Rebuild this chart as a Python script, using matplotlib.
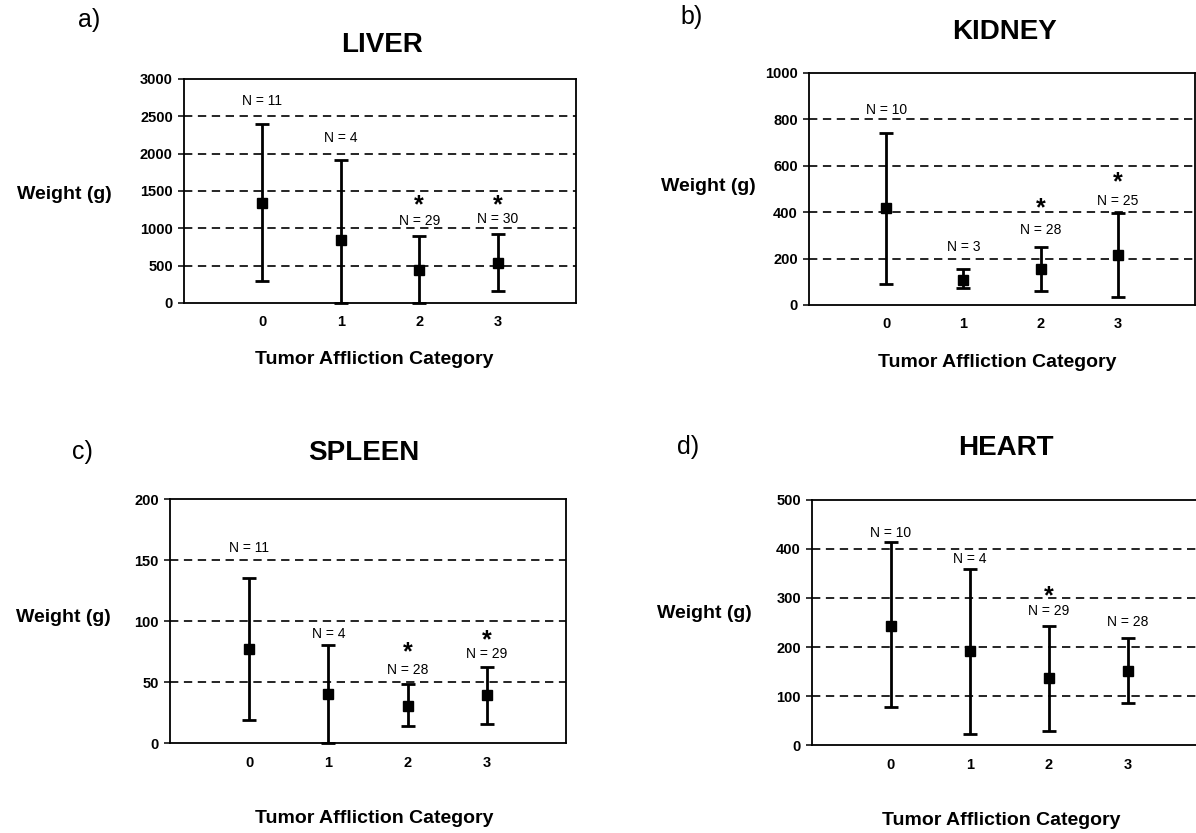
import matplotlib
matplotlib.use("Agg")
import matplotlib.pyplot as plt
import numpy as np

plt.rcParams['font.family'] = ['Liberation Sans', 'DejaVu Sans']
plt.rcParams['lines.scale_dashes'] = False

categories = [0, 1, 2, 3]

# LIVER
liver_mean = [1335, 840, 440, 535]
liver_low = [290, 0, 0, 165]
liver_high = [2400, 1920, 900, 925]
liver_n = [11, 4, 29, 30]
liver_sig = [False, False, True, True]

# KIDNEY
kidney_mean = [418, 108, 155, 215]
kidney_low = [92, 72, 60, 35]
kidney_high = [741, 157, 248, 396]
kidney_n = [10, 3, 28, 25]
kidney_sig = [False, False, True, True]

# SPLEEN
spleen_mean = [77, 40, 30, 39]
spleen_low = [19, 0, 14, 16]
spleen_high = [135, 80, 48, 62]
spleen_n = [11, 4, 28, 29]
spleen_sig = [False, False, True, True]

# HEART
heart_mean = [242, 191, 136, 152]
heart_low = [78, 22, 29, 86]
heart_high = [414, 359, 243, 219]
heart_n = [10, 4, 29, 28]
heart_sig = [False, False, True, False]

panels = [
    dict(letter='a)', title='LIVER', mean=liver_mean, low=liver_low, high=liver_high,
         n=liver_n, sig=liver_sig, ymax=3000, step=500,
         rect=[0.1538, 0.6363, 0.3278, 0.2689],
         letter_xy=(0.0744, 0.976), title_xy=(0.319, 0.946),
         ylab_xy=(0.054, 0.767), xlab_xy=(0.313, 0.568),
         n_off=[16.5, 15.3, 10.5, 10.5], star_off=[0, 0, 22.0, 20.8]),
    dict(letter='b)', title='KIDNEY', mean=kidney_mean, low=kidney_low, high=kidney_high,
         n=kidney_n, sig=kidney_sig, ymax=1000, step=200,
         rect=[0.6764, 0.6339, 0.3227, 0.2785],
         letter_xy=(0.578, 0.979), title_xy=(0.840, 0.962),
         ylab_xy=(0.592, 0.776), xlab_xy=(0.834, 0.565),
         n_off=[16.5, 15.3, 12.7, 8.6], star_off=[0, 0, 28.3, 22.0]),
    dict(letter='c)', title='SPLEEN', mean=spleen_mean, low=spleen_low, high=spleen_high,
         n=spleen_n, sig=spleen_sig, ymax=200, step=50,
         rect=[0.1421, 0.1080, 0.3311, 0.2929],
         letter_xy=(0.0686, 0.457), title_xy=(0.304, 0.456),
         ylab_xy=(0.0527, 0.259), xlab_xy=(0.313, 0.018),
         n_off=[21.8, 7.9, 10.5, 9.3], star_off=[0, 0, 23.0, 19.6]),
    dict(letter='d)', title='HEART', mean=heart_mean, low=heart_low, high=heart_high,
         n=heart_n, sig=heart_sig, ymax=500, step=100,
         rect=[0.6789, 0.1056, 0.33, 0.2942],
         letter_xy=(0.575, 0.463), title_xy=(0.841, 0.462),
         ylab_xy=(0.589, 0.264), xlab_xy=(0.837, 0.0156),
         n_off=[6.4, 7.1, 10.5, 11.0], star_off=[0, 0, 21.5, 0]),
]

fig = plt.figure(figsize=(11.96, 8.33), dpi=100)

for p in panels:
    ax = fig.add_axes(p['rect'])
    mean = np.array(p['mean'], dtype=float)
    low = np.array(p['low'], dtype=float)
    high = np.array(p['high'], dtype=float)
    ax.set_xlim(-1, 4)
    ax.set_ylim(0, p['ymax'])
    ticks = np.arange(0, p['ymax'] + 1, p['step'])
    ax.set_yticks(ticks)
    ax.set_yticklabels([str(int(t)) for t in ticks], fontsize=10.5, fontweight='bold')
    ax.set_xticks(categories)
    ax.set_xticklabels([str(c) for c in categories], fontsize=10.5, fontweight='bold')
    ax.tick_params(axis='y', direction='out', length=4, width=1.1, pad=4)
    ax.tick_params(axis='x', length=0, pad=9)
    for t in ticks[1:-1]:
        ax.axhline(t, color='black', lw=1.2, ls=(0, (6, 4)), zorder=1)
    for s in ax.spines.values():
        s.set_linewidth(1.3)
        s.set_color('black')
    ax.errorbar(categories, mean, yerr=[mean - low, high - mean], fmt='s',
                color='black', ms=6.5, elinewidth=2.0, capsize=5, capthick=2.0,
                zorder=3, clip_on=False)
    for x, h, n, no, sg, so in zip(categories, high, p['n'], p['n_off'], p['sig'], p['star_off']):
        ax.annotate(f'N = {n}', (x, h), xytext=(0, no), textcoords='offset points',
                    ha='center', va='center', fontsize=10)
        if sg:
            ax.annotate('*', (x, h), xytext=(0, so), textcoords='offset points',
                        ha='center', va='center', fontsize=18, fontweight='bold')
    fig.text(*p['letter_xy'], p['letter'], fontsize=18, ha='center', va='center')
    fig.text(*p['title_xy'], p['title'], fontsize=20, fontweight='bold', ha='center', va='center')
    fig.text(*p['ylab_xy'], 'Weight (g)', fontsize=14, fontweight='bold', ha='center', va='center')
    fig.text(*p['xlab_xy'], 'Tumor Affliction Category', fontsize=14, fontweight='bold',
             ha='center', va='center')

fig.savefig('out.png', dpi=100)
